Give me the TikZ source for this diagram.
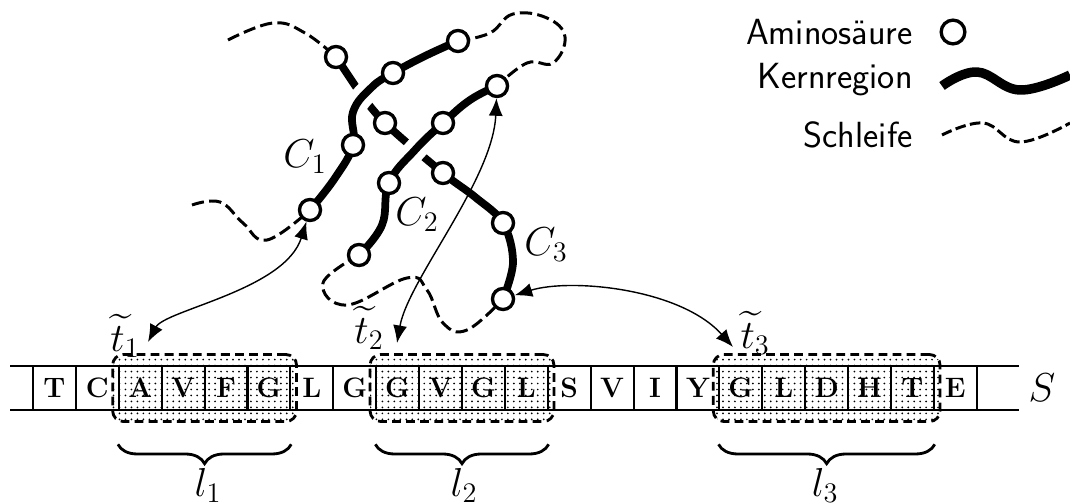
\documentclass[tikz,border=0pt]{standalone}
\usepackage{fix-cm}
\usepackage{amsmath, amssymb}
\usepackage{xcolor}
\usepackage{tikz}
\usetikzlibrary{arrows.meta, backgrounds, decorations.pathreplacing, fit, patterns.meta}

\begin{document}
\begin{tikzpicture}[
        x=0.2mm, y=-0.2mm,
        amino/.style={draw, circle, fill=white, line width=1.9pt, minimum size=12pt, inner sep=0pt},
        core/.style={line width=4.4pt, line join=round},
        halo/.style={white, line width=13pt},
        loopline/.style={line width=1.7pt, dash pattern=on 7pt off 3pt},
        link/.style={{Latex[length=10pt,width=8pt]}-{Latex[length=10pt,width=8pt]}, line width=0.8pt},
        cell/.style={draw, line width=1.1pt, minimum width=24.3pt, minimum height=25pt, inner sep=0pt, font=\fontsize{16}{18}\selectfont\bfseries},
        region/.style={pattern={Dots[radius=0.55pt, distance=3.4pt]}, draw, rounded corners=6pt, line width=1.6pt, dash pattern=on 5pt off 3pt, inner xsep=3pt, inner ysep=6pt},
        curly/.style={decorate, decoration={brace, mirror, amplitude=11pt}, line width=1.6pt},
        mathlabel/.style={font=\fontsize{23}{27}\selectfont, inner sep=1pt},
        legend/.style={anchor=east, font=\fontsize{20.7}{24}\selectfont\sffamily, inner sep=0pt}
    ]
        \useasboundingbox (0,0) rectangle (1070,503);

        % amino acids of the three chains
        \node[amino] (c1a) at (310,210) {};
        \node[amino] (c1b) at (353,145) {};
        \node[amino] (c1c) at (393,73) {};
        \node[amino] (c1d) at (458,41) {};
        \node[amino] (c2a) at (359,255) {};
        \node[amino] (c2b) at (389,183) {};
        \node[amino] (c2c) at (443,123) {};
        \node[amino] (c2d) at (497,86) {};
        \node[amino] (c3a) at (336,57) {};
        \node[amino] (c3b) at (385,123) {};
        \node[amino] (c3c) at (443,173) {};
        \node[amino] (c3d) at (503,223) {};
        \node[amino] (c3e) at (503,299) {};

        \node[mathlabel] (c1l) at (305,157) {$C_1$};
        \node[mathlabel] (c2l) at (417,215) {$C_2$};
        \node[mathlabel] (c3l) at (546,245) {$C_3$};
        \node[mathlabel] (t1) at (125,336) {$\widetilde{t}_1$};
        \node[mathlabel] (t2) at (369,328) {$\widetilde{t}_2$};
        \node[mathlabel] (t3) at (755,333) {$\widetilde{t}_3$};
        \coordinate (t1tip) at (148,342);
        \coordinate (t2tip) at (397,343);
        \coordinate (t3tip) at (733,347);

        % the sequence
        \coordinate (tl) at (10,366);
        \coordinate (tr) at (1019,366);
        \coordinate (bl) at (10,410);
        \coordinate (br) at (1019,410);
        \foreach \l [count=\k] in {T,C,A,V,F,G,L,G,G,V,G,L,S,V,I,Y,G,L,D,H,T,E}
            \node[cell] (cell\k) at ({54.45+42.9*(\k-1)},388) {\l};
        \draw[line width=1.3pt] (tl) -- (tr);
        \draw[line width=1.3pt] (bl) -- (br);
        \node[mathlabel] (seq) at (1042,388) {$S$};

        % core segments under the text and circles
        \begin{pgfonlayer}{background}
            \node[region, fit=(cell3)(cell6)] (reg1) {};
            \node[region, fit=(cell9)(cell12)] (reg2) {};
            \node[region, fit=(cell17)(cell21)] (reg3) {};

            \draw[core] plot[smooth, tension=0.6] coordinates {(c3a.center) (358,90)};
            \draw[core] plot[smooth, tension=0.6] coordinates {(358,90) (c3b.center) (c3c.center) (475,197) (c3d.center) (513,262) (c3e.center)};
            \draw[halo] plot[smooth, tension=0.7] coordinates {(c1b.center) (353,112) (372,87) (c1c.center)};
            \draw[halo] plot[smooth, tension=0.7] coordinates {(c2b.center) (415,150) (c2c.center)};
            \draw[core] plot[smooth, tension=0.7] coordinates {(c1a.center) (335,178) (c1b.center) (353,112) (372,87) (c1c.center) (425,56) (c1d.center)};
            \draw[core] plot[smooth, tension=0.7] coordinates {(c2a.center) (382,225) (c2b.center) (415,150) (c2c.center) (470,100) (c2d.center)};

            \draw[loopline] plot[smooth, tension=0.7] coordinates {(228,40) (273,23) (305,33) (c3a.center)};
            \draw[loopline] plot[smooth, tension=0.7] coordinates {(192,205) (220,202) (243,223) (267,240) (c1a.center)};
            \draw[loopline] plot[smooth, tension=0.7] coordinates {(c1d.center) (490,33) (513,14) (547,18) (565,37) (553,63) (527,63) (c2d.center)};
            \draw[loopline] plot[smooth, tension=0.7] coordinates {(c2a.center) (323,283) (347,305) (407,278) (427,290) (443,323) (467,330) (c3e.center)};
        \end{pgfonlayer}

        % links from the chains to the sequence
        \draw[link] (t1tip) .. controls (165,310) and (285,290) .. (c1a);
        \draw[link] (t2tip) .. controls (408,280) and (493,180) .. (c2d);
        \draw[link] (c3e) .. controls (570,278) and (680,288) .. (t3tip);

        \draw[curly] ([yshift=-19pt]cell3.south west) -- ([yshift=-19pt]cell6.south east) coordinate[midway] (m1);
        \draw[curly] ([yshift=-19pt]cell9.south west) -- ([yshift=-19pt]cell12.south east) coordinate[midway] (m2);
        \draw[curly] ([yshift=-19pt]cell17.south west) -- ([yshift=-19pt]cell21.south east) coordinate[midway] (m3);
        \node[mathlabel] (l1) at (208,485) {$l_1$};
        \node[mathlabel] (l2) at (464,485) {$l_2$};
        \node[mathlabel] (l3) at (825,485) {$l_3$};

        % legend
        \node[legend] (la) at (913,32) {Aminos\"aure};
        \node[legend] (lk) at (913,80) {Kernregion};
        \node[legend] (ls) at (913,135) {Schleife};
        \node[amino, minimum size=13.5pt] (lc) at (953,32) {};
        \draw[core, line width=5.4pt] plot[smooth, tension=0.7] coordinates {(942,86) (977,72) (1020,90) (1070,75)};
        \draw[loopline, dash pattern=on 6pt off 2.5pt] plot[smooth, tension=0.7] coordinates {(942,135) (983,123) (1020,142) (1070,123)};
    \end{tikzpicture}
\end{document}
